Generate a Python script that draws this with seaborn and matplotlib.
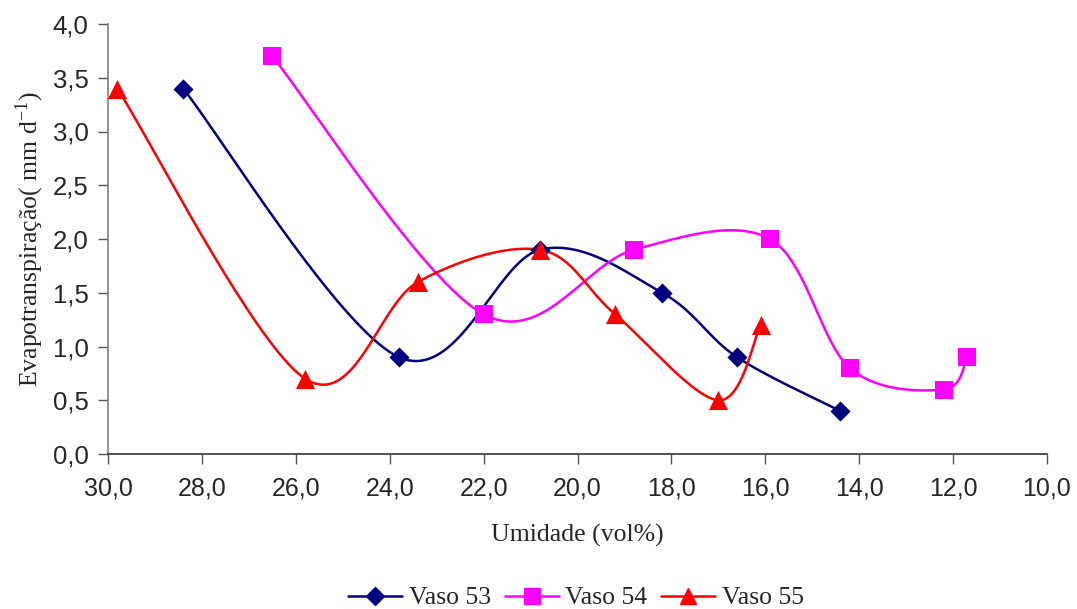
import numpy as np
import pandas as pd
import matplotlib
matplotlib.use("Agg")
import matplotlib.pyplot as plt
import seaborn as sns
from matplotlib.lines import Line2D

# Data
v53_x = [28.4, 23.8, 20.8, 18.2, 16.6, 14.4]
v53_y = [3.4, 0.9, 1.9, 1.5, 0.9, 0.4]
v54_x = [26.5, 22.0, 18.8, 15.9, 14.2, 12.2, 11.7]
v54_y = [3.7, 1.3, 1.9, 2.0, 0.8, 0.6, 0.9]
v55_x = [29.8, 25.8, 23.4, 20.8, 19.2, 17.0, 16.1]
v55_y = [3.4, 0.7, 1.6, 1.9, 1.3, 0.5, 1.2]
series_names = ["Vaso 53", "Vaso 54", "Vaso 55"]
colors = ["#000080", "#FF00FF", "#FF0000"]
markers = ["D", "s", "^"]
x_ticks = [30, 28, 26, 24, 22, 20, 18, 16, 14, 12, 10]
y_ticks = [0, 0.5, 1.0, 1.5, 2.0, 2.5, 3.0, 3.5, 4.0]


def smooth(xs, ys, n=40):
    # Excel-style smoothed line (Catmull-Rom through points as cubic Bezier)
    p = np.column_stack([xs, ys]).astype(float)
    pts = []
    m = len(p)
    for i in range(m - 1):
        p0 = p[i - 1] if i > 0 else p[i]
        p1 = p[i]
        p2 = p[i + 1]
        p3 = p[i + 2] if i + 2 < m else p[i + 1]
        c1 = p1 + (p2 - p0) / 6.0
        c2 = p2 - (p3 - p1) / 6.0
        t = np.linspace(0, 1, n)[:, None]
        seg = ((1 - t) ** 3) * p1 + 3 * ((1 - t) ** 2) * t * c1 + 3 * (1 - t) * t ** 2 * c2 + t ** 3 * p2
        if i > 0:
            seg = seg[1:]
        pts.append(seg)
    pts = np.vstack(pts)
    return pts[:, 0], pts[:, 1]


sns.set_theme(style="white")
plt.rcParams["font.family"] = ["Liberation Sans", "DejaVu Sans"]
plt.rcParams["mathtext.fontset"] = "stix"

fig = plt.figure(figsize=(10.77, 6.09), dpi=100)
ax = fig.add_axes([108 / 1077, 155 / 609, (1047 - 108) / 1077, (454 - 24) / 609])

all_x = [v53_x, v54_x, v55_x]
all_y = [v53_y, v54_y, v55_y]
for name, xs, ys, c, mk in zip(series_names, all_x, all_y, colors, markers):
    sx, sy = smooth(xs, ys)
    df_line = pd.DataFrame({"x": sx, "y": sy})
    sns.lineplot(data=df_line, x="x", y="y", sort=False, estimator=None,
                 color=c, linewidth=1.8, ax=ax)
    df_pts = pd.DataFrame({"x": xs, "y": ys})
    ms = {"D": 105, "s": 160, "^": 190}[mk]
    sns.scatterplot(data=df_pts, x="x", y="y", marker=mk, color=c, s=ms,
                    edgecolor=c, linewidth=0, ax=ax, zorder=5)

ax.set_xlim(30, 10)
ax.set_ylim(0, 4.0)
ax.set_xticks(x_ticks)
ax.set_yticks(y_ticks)
ax.set_xticklabels([f"{v:.1f}".replace(".", ",") for v in x_ticks], fontsize=18)
ax.set_yticklabels([f"{v:.1f}".replace(".", ",") for v in y_ticks], fontsize=18.5)
ax.tick_params(axis="both", direction="out", length=7, width=1, color="#555555",
               bottom=True, left=True)
ax.tick_params(axis="x", pad=9)
ax.tick_params(axis="y", pad=7)
for s in ["top", "right"]:
    ax.spines[s].set_visible(False)
ax.spines["left"].set_color("#808080")
ax.spines["bottom"].set_color("#333333")
ax.spines["left"].set_linewidth(1.2)
ax.spines["bottom"].set_linewidth(1.2)

ax.set_xlabel("Umidade (vol%)", fontsize=18.5, family="Liberation Serif", labelpad=17)
ax.set_ylabel("Evapotranspiração( mm d$^{\\mathregular{-1}}$)", fontsize=18.5,
              family="Liberation Serif", labelpad=5)

handles = [Line2D([0], [0], color=c, marker=mk, markersize={"D": 9, "s": 11, "^": 12}[mk],
                  linewidth=1.8) for c, mk in zip(colors, markers)]
fig.legend(handles, series_names, loc="center", bbox_to_anchor=(576 / 1077, 1 - 598 / 609),
           ncol=3, frameon=False, prop={"family": "Liberation Serif", "size": 18.5},
           handlelength=2.1, columnspacing=0.55, handletextpad=0.25)

fig.savefig("out.png", dpi=100)
